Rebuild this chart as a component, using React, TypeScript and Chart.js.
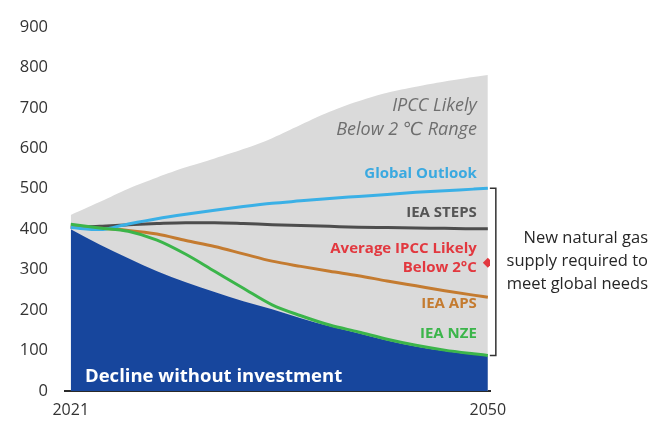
import React, { useEffect, useRef } from 'react';
import { Chart, registerables } from 'chart.js';

Chart.register(...registerables);

const years = [2021, 2023, 2025, 2027, 2029, 2031, 2033, 2035, 2037, 2039, 2041, 2043, 2045, 2047, 2049, 2050];
const ipccRangeUpper = [435, 467, 500, 528, 553, 575, 598, 625, 658, 690, 716, 737, 752, 765, 776, 781];
const declineWithoutInvestment = [400, 362, 328, 296, 269, 245, 222, 202, 180, 160, 143, 125, 110, 99, 90, 86];
const globalOutlook = [404, 399, 413, 426, 437, 447, 456, 464, 470, 476, 481, 486, 491, 495, 499, 501];
const ieaSteps = [405, 407, 411, 414, 416, 416, 414, 411, 409, 407, 405, 404, 403, 402, 401, 401];
const ieaAps = [405, 402, 397, 388, 372, 357, 339, 321, 308, 296, 285, 272, 260, 248, 237, 232];
const ieaNze = [412, 403, 395, 373, 338, 296, 254, 213, 186, 163, 146, 128, 113, 101, 92, 88];
const avgIpccYear = 2050;
const avgIpccValue = 317;
const xTickYears = [2021, 2050];
const yTicks = [0, 100, 200, 300, 400, 500, 600, 700, 800, 900];

const pts = (vals: number[]) => vals.map((v, i) => ({ x: years[i], y: v }));

const FONT = '"Open Sans", "DejaVu Sans", sans-serif';

const annotatePlugin = {
  id: 'annotate',
  afterDraw(chart: any) {
    const { ctx, scales } = chart;
    const x = scales.x;
    const y = scales.y;
    const xr = x.getPixelForValue(2050) - 11;
    const text = (s: string, px: number, py: number, color: string, font: string, align: CanvasTextAlign = 'right') => {
      ctx.save();
      ctx.fillStyle = color;
      ctx.font = font;
      ctx.textAlign = align;
      ctx.textBaseline = 'middle';
      ctx.fillText(s, px, py);
      ctx.restore();
    };
    const italic = `italic 18px ${FONT}`;
    const bold = `bold 15px ${FONT}`;
    text('IPCC Likely', xr, 105.5, '#6e6e6e', italic);
    text('Below 2 \u2103 Range', xr, 129.5, '#6e6e6e', italic);
    text('Global Outlook', xr, 174, '#3aa9e0', bold);
    text('IEA STEPS', xr, 213, '#555555', bold);
    text('Average IPCC Likely', xr, 248.5, '#e2383f', bold);
    text('Below 2\u00B0C', xr, 267.5, '#e2383f', bold);
    text('IEA APS', xr, 304, '#c47b30', bold);
    text('IEA NZE', xr, 334, '#3bb54a', bold);
    text('Decline without investment', 85, 377, '#ffffff', `bold 18.5px ${FONT}`, 'left');

    // bracket
    const bx = x.getPixelForValue(2050) + 8;
    const top = y.getPixelForValue(globalOutlook[globalOutlook.length - 1]);
    const bot = y.getPixelForValue(ieaNze[ieaNze.length - 1]);
    ctx.save();
    ctx.strokeStyle = '#333333';
    ctx.lineWidth = 1.5;
    ctx.beginPath();
    ctx.moveTo(bx - 6, top);
    ctx.lineTo(bx, top);
    ctx.lineTo(bx, bot);
    ctx.lineTo(bx - 6, bot);
    ctx.stroke();
    ctx.restore();

    const rf = `16.5px ${FONT}`;
    text('New natural gas', 648, 238, '#262626', rf);
    text('supply required to', 648, 261, '#262626', rf);
    text('meet global needs', 648, 284, '#262626', rf);
  },
};

export default function App() {
  const ref = useRef<HTMLCanvasElement>(null);
  useEffect(() => {
    if (!ref.current) return;
    const lineDs = (label: string, vals: number[], color: string, order: number) => ({
      label,
      data: pts(vals),
      borderColor: color,
      backgroundColor: color,
      borderWidth: 3,
      pointRadius: 0,
      fill: false,
      cubicInterpolationMode: 'monotone' as const,
      order,
    });
    const chart = new Chart(ref.current, {
      type: 'line',
      data: {
        datasets: [
          {
            label: 'IPCC Likely Below 2 ℃ Range',
            data: pts(ipccRangeUpper),
            borderWidth: 0,
            borderColor: 'rgba(0,0,0,0)',
            backgroundColor: '#dadada',
            pointRadius: 0,
            fill: 'origin',
            tension: 0.4,
            order: 10,
          },
          {
            label: 'Decline without investment',
            data: pts(declineWithoutInvestment),
            borderWidth: 0,
            borderColor: 'rgba(0,0,0,0)',
            backgroundColor: '#17469d',
            pointRadius: 0,
            fill: 'origin',
            cubicInterpolationMode: 'monotone',
            order: 9,
          },
          lineDs('IEA STEPS', ieaSteps, '#4d4d4d', 6),
          lineDs('IEA APS', ieaAps, '#c47b30', 5),
          lineDs('Global Outlook', globalOutlook, '#3ab0e6', 4),
          lineDs('IEA NZE', ieaNze, '#3bb54a', 3),
          {
            label: 'Average IPCC Likely Below 2°C',
            data: [{ x: avgIpccYear, y: avgIpccValue }],
            showLine: false,
            pointStyle: 'rectRot',
            pointRadius: 5,
            pointBackgroundColor: '#e2383f',
            pointBorderColor: '#e2383f',
            borderWidth: 0,
            order: 1,
          } as any,
        ],
      },
      options: {
        responsive: false,
        animation: false,
        layout: { padding: { top: 25, right: 159, left: 0, bottom: 0 } },
        plugins: { legend: { display: false }, tooltip: { enabled: false } },
        scales: {
          x: {
            type: 'linear',
            min: 2020.6,
            max: 2050.15,
            z: 1,
            grid: { display: false, drawTicks: false },
            border: { display: true, color: '#2a2a2a', width: 2 },
            afterBuildTicks: (s: any) => {
              s.ticks = xTickYears.map((v) => ({ value: v }));
            },
            afterFit: (s: any) => {
              s.height = 31;
            },
            ticks: {
              padding: 10,
              maxRotation: 0,
              autoSkip: false,
              color: '#333333',
              font: { family: FONT, size: 16 },
              callback: (v: any) => String(v),
            },
          },
          y: {
            min: 0,
            max: 900,
            grid: { display: false, drawTicks: false },
            border: { display: false },
            afterBuildTicks: (s: any) => {
              s.ticks = yTicks.map((v) => ({ value: v }));
            },
            afterFit: (s: any) => {
              s.width = 65;
            },
            ticks: {
              padding: 17,
              color: '#333333',
              font: { family: FONT, size: 16.5 },
            },
          },
        },
      },
      plugins: [annotatePlugin],
    });
    return () => chart.destroy();
  }, []);
  return (
    <div style={{ position: 'fixed', left: 0, top: 0, width: 649, height: 422, background: '#fff' }}>
      <canvas ref={ref} width={649} height={422} style={{ display: 'block', width: 649, height: 422 }} />
    </div>
  );
}
